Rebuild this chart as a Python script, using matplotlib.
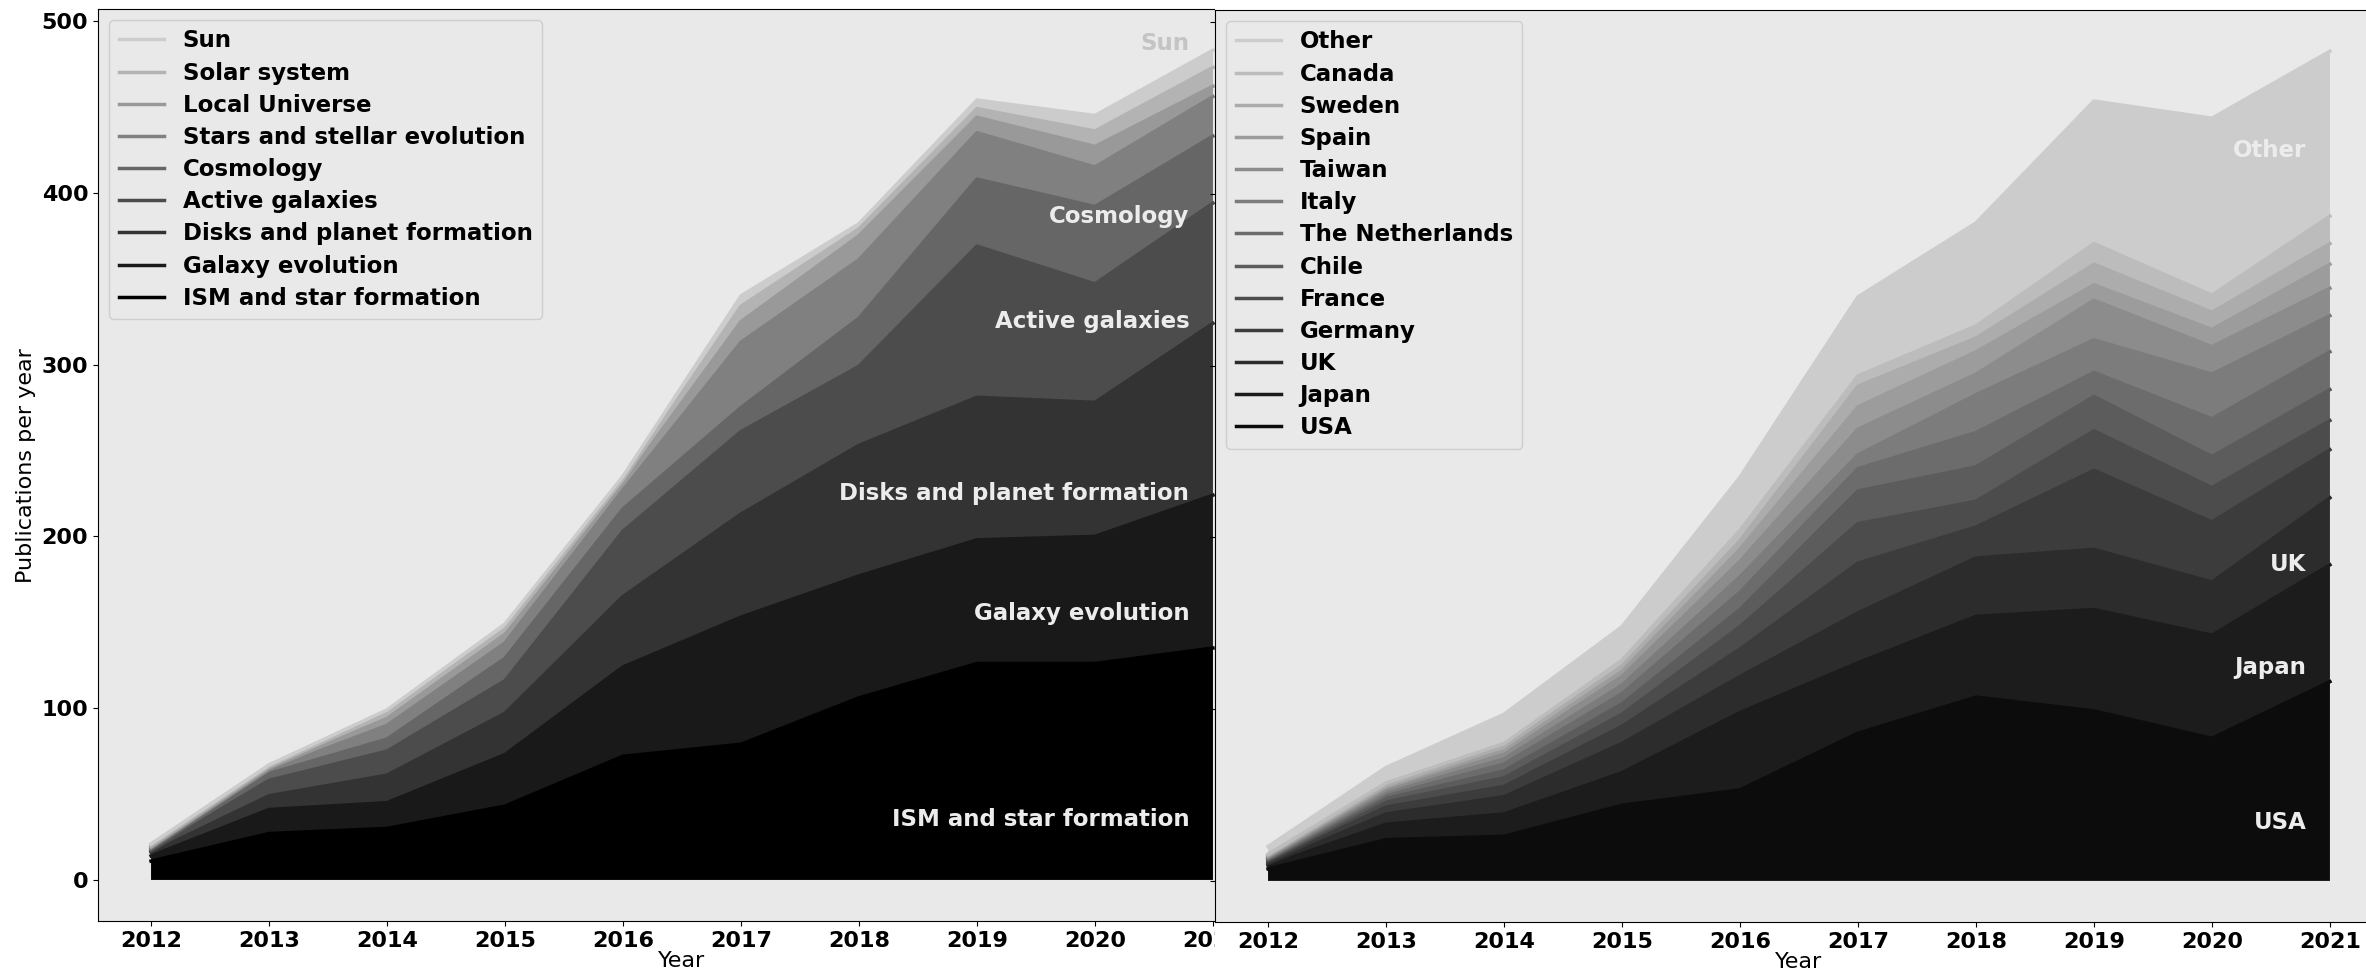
import numpy as np
import matplotlib.pyplot as plt
from matplotlib.patches import Rectangle

years = [2012, 2013, 2014, 2015, 2016, 2017, 2018, 2019, 2020, 2021]

# publications per year by science category, bottom of the stack first
topics = ['ISM and star formation', 'Galaxy evolution', 'Disks and planet formation',
          'Active galaxies', 'Cosmology', 'Stars and stellar evolution',
          'Local Universe', 'Solar system', 'Sun']
ism = [11, 27, 30, 43, 72, 79, 106, 126, 126, 135]
galaxy_evolution = [3, 14, 15, 30, 52, 74, 71, 72, 74, 89]
disks = [2, 8, 16, 24, 41, 60, 76, 83, 78, 100]
active_galaxies = [1, 9, 14, 19, 38, 48, 46, 88, 69, 70]
cosmology = [1, 4, 7, 13, 13, 14, 28, 39, 45, 39]
stars = [1, 2, 8, 9, 11, 38, 34, 27, 23, 23]
local_universe = [0, 1, 4, 5, 4, 12, 14, 9, 12, 6]
solar_system = [1, 1, 3, 3, 2, 9, 4, 5, 9, 11]
sun = [1, 1, 2, 3, 2, 6, 3, 5, 9, 10]

# publications per year by country, bottom of the stack first
countries = ['USA', 'Japan', 'UK', 'Germany', 'France', 'Chile', 'The Netherlands',
             'Italy', 'Taiwan', 'Spain', 'Sweden', 'Canada', 'Other']
usa = [7, 24, 26, 44, 53, 86, 107, 99, 83, 116]
japan = [2, 9, 13, 19, 45, 41, 47, 59, 60, 68]
uk = [1, 6, 10, 17, 21, 29, 34, 35, 31, 39]
germany = [1, 4, 6, 10, 16, 29, 18, 46, 35, 28]
france = [1, 3, 5, 7, 13, 23, 15, 23, 20, 17]
chile = [0.5, 2, 4, 6, 10, 19, 20, 20, 18, 18]
netherlands = [0.5, 2, 4, 6, 10, 13, 20, 14, 22, 22]
italy = [0.5, 1.5, 3, 5, 9, 8, 22, 19, 26, 21]
taiwan = [0.5, 1.5, 3, 5, 9, 15, 12, 23, 16, 16]
spain = [0.5, 1.5, 2, 3, 7, 13, 13, 9, 10, 14]
sweden = [0.5, 1, 2, 3, 5, 12, 8, 12, 10, 12]
canada = [0.5, 1.5, 2, 3.5, 6, 6, 7, 12, 10, 16]
other = [4.5, 9, 17, 19.5, 31, 46, 60, 83, 103, 96]

# in-plot labels: name -> height where the label sits
topic_tags = {'Sun': 487, 'Cosmology': 386, 'Active galaxies': 325,
              'Disks and planet formation': 225, 'Galaxy evolution': 155,
              'ISM and star formation': 35}
country_tags = {'Other': 425, 'UK': 184, 'Japan': 124, 'USA': 34}

FS = 16
BG = '#e9e9e9'


def stack_panel(ax, names, series, colors, tags):
    """Stacked area of the series, one line on top of each layer for the legend"""
    ax.set_facecolor(BG)
    ax.stackplot(years, series, colors=colors)
    tops = np.cumsum(np.array(series, dtype=float), axis=0)
    handles = []
    for name, top, c in zip(names, tops, colors):
        line, = ax.plot(years, top, color=c, lw=2.5, label=name)
        handles.append(line)
    # same 5% padding as the x axis, also below zero
    peak = tops[-1].max()
    ax.set_ylim(-0.05 * peak, 1.05 * peak)
    # top category first in the legend
    ax.legend(handles=handles[::-1], loc='upper left', facecolor=BG,
              edgecolor='#c8c8c8', labelspacing=0.4,
              prop={'weight': 'bold', 'size': 16.5})
    for name, y in tags.items():
        col = '#c4c4c4' if name == 'Sun' else '#ececec'
        ax.text(2020.8, y, name, ha='right', va='center', color=col,
                fontsize=16.5, fontweight='bold')
    ax.set_xticks(years)
    ax.set_xlabel('Year', fontsize=FS, labelpad=0)
    for lab in ax.get_xticklabels() + ax.get_yticklabels():
        lab.set_fontweight('bold')
        lab.set_fontsize(FS)


fig = plt.figure(figsize=(23.66, 9.73), dpi=100)
ax1 = fig.add_axes([0.0414, 0.053, 0.4937, 0.938])
ax2 = fig.add_axes([0.5135, 0.052, 0.4937, 0.938])

stack_panel(ax1, topics,
            [ism, galaxy_evolution, disks, active_galaxies, cosmology, stars,
             local_universe, solar_system, sun],
            plt.cm.gray(np.linspace(0, 0.8, len(topics))), topic_tags)
ax1.set_ylabel('Publications per year', fontsize=FS)

stack_panel(ax2, countries,
            [usa, japan, uk, germany, france, chile, netherlands, italy,
             taiwan, spain, sweden, canada, other],
            plt.cm.gray(np.linspace(0.05, 0.8, len(countries))), country_tags)
ax2.tick_params(axis='y', labelleft=False)

# the country panel sits on top of the right end of the category panel
ax1.set_zorder(0)
ax2.set_zorder(2)
fig.add_artist(Rectangle((0.5135, 0), 0.5, 1, transform=fig.transFigure,
                         facecolor='white', edgecolor='none', zorder=1))

fig.savefig('out.png', dpi=100)
